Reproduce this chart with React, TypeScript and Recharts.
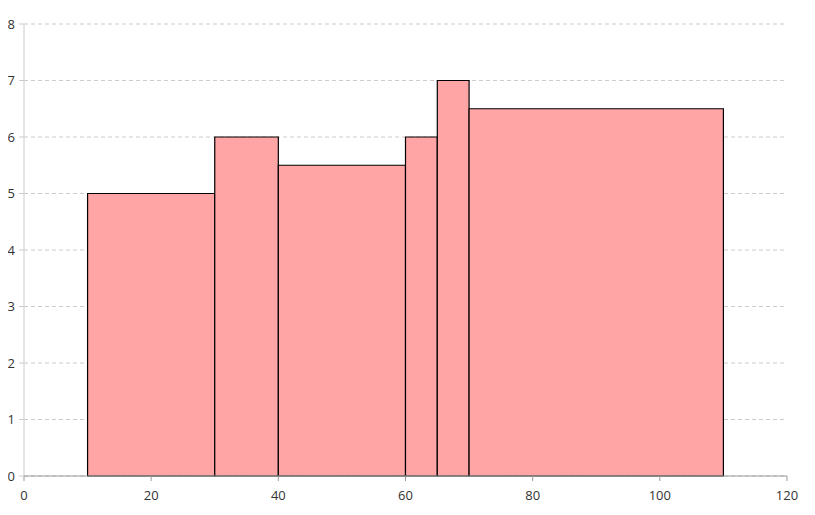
import { CartesianGrid, ComposedChart, ReferenceArea, Scatter, XAxis, YAxis } from "recharts"

// bin edges and heights for the histogram
const binStarts = [10, 30, 40, 60, 65, 70]
const binEnds = [30, 40, 60, 65, 70, 110]
const binHeights = [5, 6, 5.5, 6, 7, 6.5]

const xTicks = [0, 20, 40, 60, 80, 100, 120]
const yTicks = [0, 1, 2, 3, 4, 5, 6, 7, 8]

const bins = binStarts.map((start, i) => ({ start, end: binEnds[i], height: binHeights[i] }))

const tickStyle = { fill: "#333", fontSize: 13, fontFamily: "'Open Sans', sans-serif" }

export default function App() {
  return (
    <ComposedChart
      width={800}
      height={500}
      data={bins}
      margin={{ top: 16, right: 21, bottom: 2, left: 0 }}
    >
      <CartesianGrid vertical={false} stroke="#ccc" strokeDasharray="4 3" />
      <XAxis
        type="number"
        dataKey="start"
        domain={[0, 120]}
        ticks={xTicks}
        tick={tickStyle}
        stroke="#999"
        tickSize={5}
        tickMargin={10}
        height={30}
        allowDataOverflow
      />
      <YAxis
        type="number"
        dataKey="height"
        domain={[0, 8]}
        ticks={yTicks}
        tick={tickStyle}
        stroke="#ccc"
        tickSize={5}
        tickMargin={4}
        width={16}
        allowDataOverflow
      />
      {bins.map((b, i) => (
        <ReferenceArea
          key={`bin-${i}`}
          x1={b.start}
          x2={b.end}
          y1={0}
          y2={b.height}
          fill="#ffa5a5"
          fillOpacity={1}
          stroke="#000"
          strokeWidth={1.2}
          ifOverflow="visible"
        />
      ))}
      {/* invisible series so both axes pick up the data */}
      <Scatter dataKey="height" fill="none" shape={() => <g />} isAnimationActive={false} />
    </ComposedChart>
  )
}
